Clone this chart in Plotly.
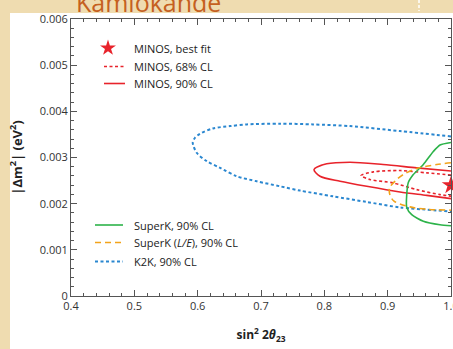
import plotly.graph_objects as go

# ---------------- data (sin^2 2theta, |dm^2| in 1e-3 eV^2) ----------------
k2k_x = [1.0, 0.9195, 0.8406, 0.7821, 0.7300, 0.6774, 0.6511, 0.6242, 0.6037, 0.5958, 0.5922,
         0.5985, 0.6143, 0.6354, 0.6616, 0.6932, 0.7300, 0.7616, 0.8137, 0.8669, 0.9195, 1.0]
k2k_y = [3.457, 3.572, 3.680, 3.717, 3.733, 3.717, 3.680, 3.630, 3.515, 3.428, 3.320,
         3.102, 2.920, 2.776, 2.593, 2.485, 2.376, 2.283, 2.159, 2.037, 1.920, 1.833]

minos90_x = [1.0, 0.9459, 0.8927, 0.8406, 0.8038, 0.7837, 0.7932, 0.8248, 0.8669, 0.9195, 0.9617, 1.0]
minos90_y = [2.707, 2.776, 2.848, 2.898, 2.863, 2.739, 2.593, 2.485, 2.376, 2.254, 2.180, 2.109]

minos68_x = [1.0, 0.9617, 0.9195, 0.8774, 0.8580, 0.8721, 0.9085, 0.9459, 0.9827, 1.0]
minos68_y = [2.620, 2.667, 2.717, 2.689, 2.609, 2.522, 2.450, 2.304, 2.196, 2.163]

sk_x = [1.0, 0.9826, 0.9721, 0.9563, 0.9405, 0.9326, 0.9300, 0.9300, 0.9380, 0.9563, 0.9826, 1.0]
sk_y = [3.326, 3.272, 3.130, 2.848, 2.630, 2.457, 2.174, 1.924, 1.761, 1.620, 1.543, 1.522]

skle_x = [1.0, 0.9774, 0.9459, 0.9247, 0.9116, 0.9029, 0.9037, 0.9100, 0.9353, 0.9637, 1.0]
skle_y = [2.885, 2.848, 2.761, 2.630, 2.489, 2.337, 2.185, 2.054, 1.930, 1.876, 1.859]

best_x = [1.0]
best_y = [2.40]

x_ticks = [0.4, 0.5, 0.6, 0.7, 0.8, 0.9, 1.0]
x_ticktext = ["0.4", "0.5", "0.6", "0.7", "0.8", "0.9", "1.0"]
y_ticks = [0, 0.001, 0.002, 0.003, 0.004, 0.005, 0.006]
y_ticktext = ["0", "0.001", "0.002", "0.003", "0.004", "0.005", "0.006"]

legend_top = ["MINOS, best fit", "MINOS, 68% CL", "MINOS, 90% CL"]
legend_bot = ["SuperK, 90% CL", "SuperK (<i>L/E</i>), 90% CL", "K2K, 90% CL"]

# ---------------- style ----------------
RED = "#e8232b"
BLUE = "#2a87d0"
GREEN = "#2db34a"
ORANGE = "#f2a31b"
BEIGE = "#efdcb0"
FONT = "Open Sans"

W, H = 453, 349
L, R, T, B = 71, 451, 19, 296


def pxx(px):
    return (px - L) / (R - L)


def pxy(py):
    return (B - py) / (B - T)


def sc(v):
    return [a * 1e-3 for a in v]


fig = go.Figure()

fig.add_trace(go.Scatter(x=k2k_x, y=sc(k2k_y), mode="lines", line=dict(color=BLUE, width=2, dash="3px,2.5px", shape="spline", smoothing=0.8)))
fig.add_trace(go.Scatter(x=minos90_x, y=sc(minos90_y), mode="lines", line=dict(color=RED, width=1.6, shape="spline", smoothing=0.8)))
fig.add_trace(go.Scatter(x=minos68_x, y=sc(minos68_y), mode="lines", line=dict(color=RED, width=1.6, dash="3px,2.5px", shape="spline", smoothing=0.8)))
fig.add_trace(go.Scatter(x=sk_x, y=sc(sk_y), mode="lines", line=dict(color=GREEN, width=1.6, shape="spline", smoothing=0.6)))
fig.add_trace(go.Scatter(x=skle_x, y=sc(skle_y), mode="lines", line=dict(color=ORANGE, width=1.6, dash="6px,4px", shape="spline", smoothing=0.8)))
fig.add_trace(go.Scatter(x=best_x, y=sc(best_y), mode="markers", cliponaxis=False,
                         marker=dict(symbol="star", size=14, color=RED, line=dict(width=0))))

shapes = []
annotations = []

# slide background: beige frame strips on a white page
shapes.append(dict(type="rect", xref="paper", yref="paper", layer="below",
                   x0=pxx(-5), x1=pxx(10), y0=pxy(360), y1=pxy(-5),
                   fillcolor=BEIGE, line=dict(width=0)))
shapes.append(dict(type="rect", xref="paper", yref="paper", layer="below",
                   x0=pxx(-5), x1=pxx(470), y0=pxy(13), y1=pxy(-5),
                   fillcolor=BEIGE, line=dict(width=0)))
shapes.append(dict(type="line", xref="paper", yref="paper",
                   x0=pxx(419), x1=pxx(419), y0=pxy(0), y1=pxy(11),
                   line=dict(color="white", width=1.5, dash="3px,2px")))

# slide title (cut off at top)
annotations.append(dict(text="Kamiokande", xref="paper", yref="paper", x=pxx(74), y=pxy(21),
                        xanchor="left", yanchor="bottom", showarrow=False,
                        font=dict(family=FONT, size=25, color="#c5601f")))

# legend, top block
fig.add_trace(go.Scatter(x=[0.4 + (108 - L) / (R - L) * 0.6], y=[(B - 48) / (B - T) * 0.006],
                         mode="markers", marker=dict(symbol="star", size=12, color=RED, line=dict(width=0))))
shapes.append(dict(type="line", xref="paper", yref="paper", x0=pxx(104), x1=pxx(125), y0=pxy(66.5), y1=pxy(66.5),
                   line=dict(color=RED, width=1.6, dash="3px,2.5px")))
shapes.append(dict(type="line", xref="paper", yref="paper", x0=pxx(104), x1=pxx(125), y0=pxy(83.5), y1=pxy(83.5),
                   line=dict(color=RED, width=1.6)))
for txt, py in zip(legend_top, [48, 66.5, 83.5]):
    annotations.append(dict(text=txt, xref="paper", yref="paper", x=pxx(132), y=pxy(py),
                            xanchor="left", yanchor="middle", showarrow=False,
                            font=dict(family=FONT, size=11, color="#222")))

# legend, bottom block
for col, dash, w, py in [(GREEN, "solid", 1.6, 225), (ORANGE, "6px,4px", 1.6, 242.5), (BLUE, "3px,2.5px", 2, 261.5)]:
    shapes.append(dict(type="line", xref="paper", yref="paper", x0=pxx(95), x1=pxx(123), y0=pxy(py), y1=pxy(py),
                       line=dict(color=col, width=w, dash=dash)))
for txt, py in zip(legend_bot, [225, 242.5, 261.5]):
    annotations.append(dict(text=txt, xref="paper", yref="paper", x=pxx(132), y=pxy(py),
                            xanchor="left", yanchor="middle", showarrow=False,
                            font=dict(family=FONT, size=11, color="#222")))

axis_common = dict(showline=True, linecolor="#555", linewidth=1, mirror="allticks",
                   ticks="inside", ticklen=6, tickcolor="#555", tickwidth=1,
                   showgrid=False, zeroline=False, automargin=False,
                   tickfont=dict(family=FONT, size=11, color="#333"))

fig.update_layout(
    width=W, height=H,
    margin=dict(l=L, r=W - R, t=T, b=H - B, autoexpand=False),
    paper_bgcolor="white", plot_bgcolor="white",
    showlegend=False,
    shapes=shapes, annotations=annotations,
    xaxis=dict(range=[0.4, 1.0], tickvals=x_ticks, ticktext=x_ticktext, ticklabeloverflow="allow",
               minor=dict(ticks="inside", ticklen=3, dtick=0.02, tick0=0.4, tickcolor="#555"),
               title=dict(text="<b>sin<sup>2</sup> 2<i>θ</i><sub>23</sub></b>", standoff=18,
                          font=dict(family=FONT, size=12, color="#222")),
               **axis_common),
    yaxis=dict(range=[0, 0.006], tickvals=y_ticks, ticktext=y_ticktext,
               minor=dict(ticks="inside", ticklen=3, dtick=0.0002, tick0=0, tickcolor="#555"),
               title=dict(text="<b>|Δm<sup>2</sup>| (eV<sup>2</sup>)</b>", standoff=14,
                          font=dict(family=FONT, size=13, color="#222")),
               **axis_common),
)

fig.write_html("out.html")
